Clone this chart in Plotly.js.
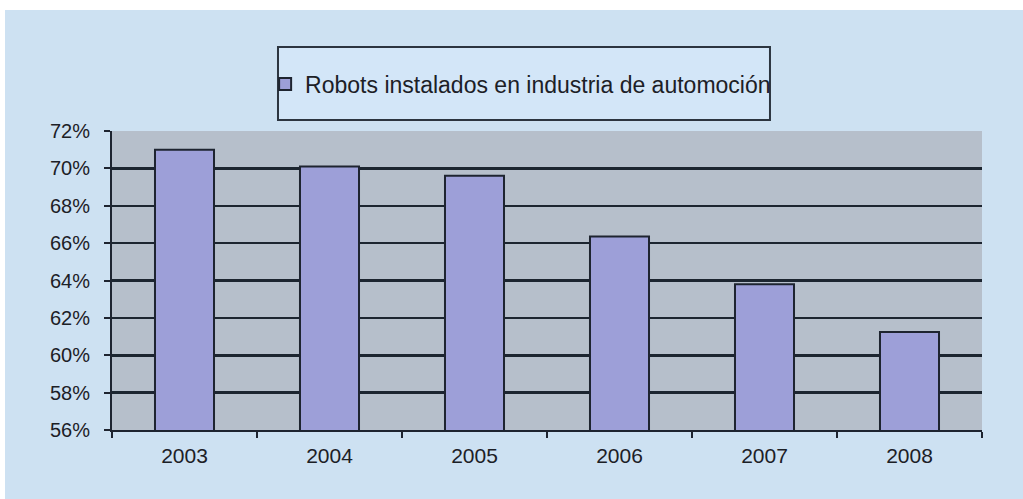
<!DOCTYPE html>
<html>
<head>
<meta charset="utf-8">
<script src="https://cdn.plot.ly/plotly-3.0.1.min.js"></script>
<style>
  html, body { margin: 0; padding: 0; background: #ffffff; width: 1023px; height: 499px; overflow: hidden; }
  #chart { position: absolute; left: 5px; top: 10px; width: 1018px; height: 489px; }
</style>
</head>
<body>
<div id="chart"></div>
<script>
// Data
const years = ["2003", "2004", "2005", "2006", "2007", "2008"];
const robotsShare = [71.0, 70.1, 69.6, 66.35, 63.8, 61.25];
const seriesName = "Robots instalados en industria de automoción";
const yTickValues = [56, 58, 60, 62, 64, 66, 68, 70, 72];
const yTickLabels = ["56%", "58%", "60%", "62%", "64%", "66%", "68%", "70%", "72%"];

const textColor = "#1c2026";
const fontFamily = "'Liberation Sans', Arial, sans-serif";

const trace = {
  type: "bar",
  x: years,
  y: robotsShare,
  name: seriesName,
  marker: { color: "#9d9fd8", line: { color: "#1e2430", width: 2 } },
  showlegend: true,
  hoverinfo: "x+y"
};

const layout = {
  width: 1018,
  height: 489,
  margin: { l: 107, r: 41, t: 121, b: 69, pad: 0 },
  paper_bgcolor: "#cde1f2",
  plot_bgcolor: "#b6bfcb",
  font: { family: fontFamily, color: textColor, size: 20 },
  bargap: 0.593,
  showlegend: true,
  legend: {
    x: 0.176, xanchor: "left",
    y: 1.157, yanchor: "middle",
    bgcolor: "rgba(0,0,0,0)",
    borderwidth: 0,
    font: { size: 23, family: fontFamily, color: textColor }
  },
  xaxis: {
    type: "category",
    showline: true, linecolor: "#1e2430", linewidth: 2,
    ticks: "outside", tickson: "boundaries", ticklen: 6, tickcolor: "#1e2430", tickwidth: 2,
    showgrid: false,
    tickfont: { size: 21 },
    ticklabelstandoff: 6,
    fixedrange: true
  },
  yaxis: {
    range: [56, 72],
    tickvals: yTickValues,
    ticktext: yTickLabels,
    showline: true, linecolor: "#1e2430", linewidth: 2,
    ticks: "outside", ticklen: 6, tickcolor: "#1e2430", tickwidth: 2,
    showgrid: true, gridcolor: "#1c2530", gridwidth: 2.5,
    zeroline: false,
    tickfont: { size: 20 },
    ticklabelstandoff: 10,
    fixedrange: true
  },
  shapes: [
    {
      type: "rect", xref: "paper", yref: "paper",
      x0: 0.1908, x1: 0.7563, y0: 1.037, y1: 1.281,
      fillcolor: "#d3e6f8",
      line: { color: "#2c3540", width: 2 },
      layer: "below"
    }
  ]
};

Plotly.newPlot("chart", [trace], layout, { displayModeBar: false, staticPlot: true });
</script>
</body>
</html>
